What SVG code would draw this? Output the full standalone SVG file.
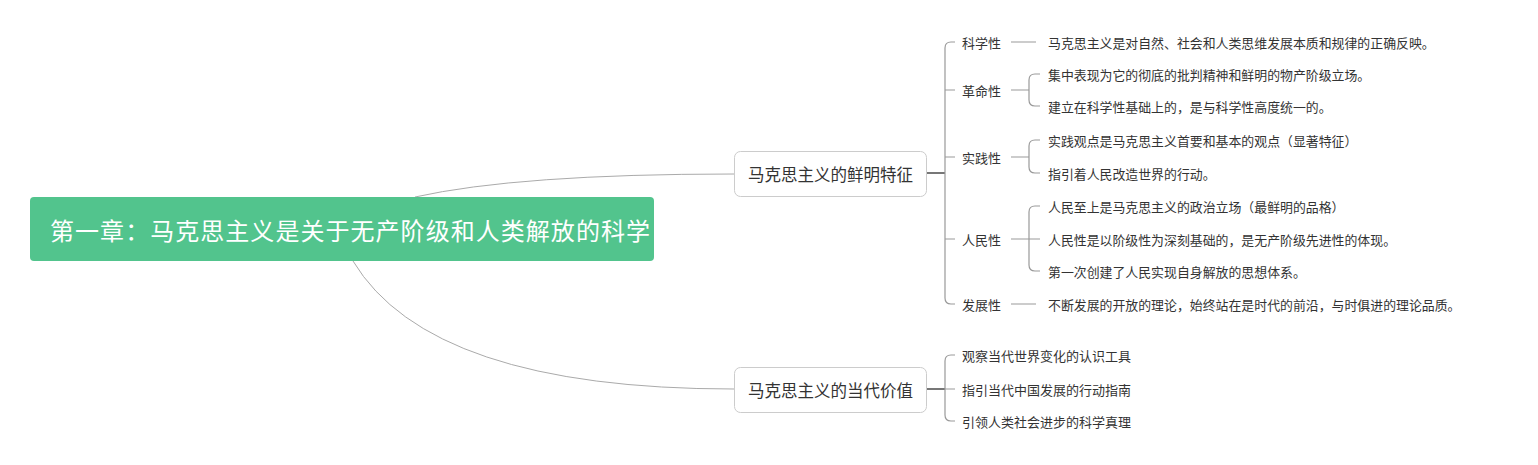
<svg xmlns="http://www.w3.org/2000/svg" width="1538" height="465" viewBox="0 0 1538 465">
<style>
text{font-family:"Noto Sans CJK SC","Noto Sans",sans-serif;fill:#333;dominant-baseline:central}
.root{fill:#fff;font-size:24px}
.main{font-size:16.5px}
.lab{font-size:13px}
.leaf{font-size:12.9px}
.c{fill:none;stroke:#aaa;stroke-width:1}
.t{fill:none;stroke:#777;stroke-width:2}
.b{fill:none;stroke:#999;stroke-width:1.2}
</style>
<rect width="1538" height="465" fill="#fff"/>
<g id="connectors">
<path class="c" d="M415,197 Q518,174 734,174"/>
<path class="c" d="M353,261 Q430,389 734,389"/>
<path class="t" d="M926,173 H945"/>
<path class="b" d="M955,42 H951 Q945,42 945,48 V298 Q945,304 951,304 H955"/>
<path class="b" d="M945,90 H955 M945,157 H955 M945,239 H955"/>
<path class="b" d="M1011,42 H1036 M1011,304 H1036"/>
<path class="b" d="M1011,90 H1029 M1040,74 H1035 Q1029,74 1029,80 V100 Q1029,106 1035,106 H1040"/>
<path class="b" d="M1011,157 H1029 M1040,140 H1035 Q1029,140 1029,146 V167 Q1029,173 1035,173 H1040"/>
<path class="b" d="M1011,239 H1040 M1040,206 H1035 Q1029,206 1029,212 V265 Q1029,271 1035,271 H1040"/>
<path class="t" d="M926,389 H945"/>
<path class="b" d="M955,355 H951 Q945,355 945,361 V415 Q945,421 951,421 H955 M945,389 H955"/>
</g>
<g id="root">
<rect x="30" y="197" width="624" height="64" rx="4" fill="#52c48d"/>
<text class="root" x="50" y="229" textLength="600">第一章：马克思主义是关于无产阶级和人类解放的科学</text>
</g>
<g id="n1">
<rect x="734.5" y="151.5" width="192" height="45" rx="6" fill="#fff" stroke="#ccc"/>
<text class="main" x="830.5" y="174" text-anchor="middle">马克思主义的鲜明特征</text>
</g>
<g id="n2">
<rect x="734.5" y="367.5" width="192" height="45" rx="6" fill="#fff" stroke="#ccc"/>
<text class="main" x="830.5" y="390" text-anchor="middle">马克思主义的当代价值</text>
</g>
<g id="kx"><text class="lab" x="962" y="42">科学性</text></g>
<g id="kx1"><text class="leaf" x="1048" y="42">马克思主义是对自然、社会和人类思维发展本质和规律的正确反映。</text></g>
<g id="gm"><text class="lab" x="962" y="90">革命性</text></g>
<g id="gm1"><text class="leaf" x="1048" y="74">集中表现为它的彻底的批判精神和鲜明的物产阶级立场。</text></g>
<g id="gm2"><text class="leaf" x="1048" y="106">建立在科学性基础上的，是与科学性高度统一的。</text></g>
<g id="sj"><text class="lab" x="962" y="157">实践性</text></g>
<g id="sj1"><text class="leaf" x="1048" y="140">实践观点是马克思主义首要和基本的观点（显著特征）</text></g>
<g id="sj2"><text class="leaf" x="1048" y="173">指引着人民改造世界的行动。</text></g>
<g id="rm"><text class="lab" x="962" y="239">人民性</text></g>
<g id="rm1"><text class="leaf" x="1048" y="206">人民至上是马克思主义的政治立场（最鲜明的品格）</text></g>
<g id="rm2"><text class="leaf" x="1048" y="239">人民性是以阶级性为深刻基础的，是无产阶级先进性的体现。</text></g>
<g id="rm3"><text class="leaf" x="1048" y="271">第一次创建了人民实现自身解放的思想体系。</text></g>
<g id="fz"><text class="lab" x="962" y="304">发展性</text></g>
<g id="fz1"><text class="leaf" x="1048" y="304">不断发展的开放的理论，始终站在是时代的前沿，与时俱进的理论品质。</text></g>
<g id="v1"><text class="lab" x="962" y="355">观察当代世界变化的认识工具</text></g>
<g id="v2"><text class="lab" x="962" y="389">指引当代中国发展的行动指南</text></g>
<g id="v3"><text class="lab" x="962" y="421">引领人类社会进步的科学真理</text></g>
</svg>
